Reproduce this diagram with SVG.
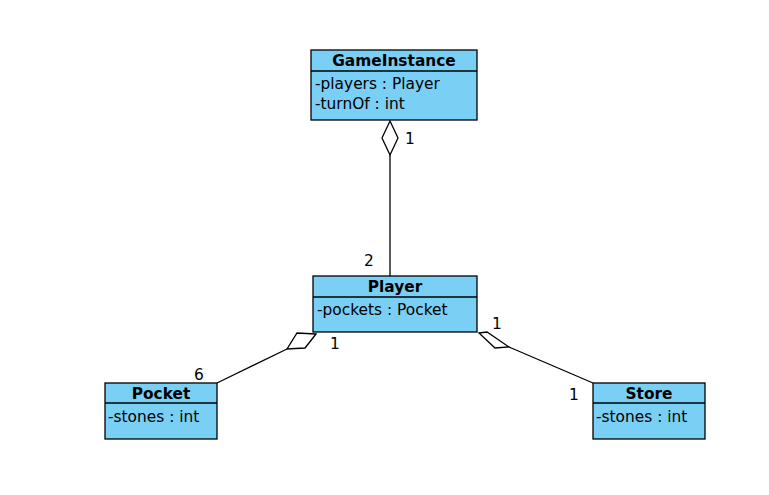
<svg xmlns="http://www.w3.org/2000/svg" width="769" height="495" viewBox="0 0 769 495">
<style>
.box{fill:#7acff5;stroke:#000;stroke-width:1.3}
.sep{stroke:#000;stroke-width:1.3}
.t{font-family:"DejaVu Sans",sans-serif;font-size:15.4px;fill:#000}
.b{font-weight:bold;text-anchor:middle}
.edge{stroke:#000;stroke-width:1.3;fill:none}
.dia{stroke:#000;stroke-width:1.3;fill:#fff}
</style>
<rect width="769" height="495" fill="#fff"/>
<g id="connectors">
<line class="edge" x1="390" y1="155" x2="390" y2="276"/>
<polygon class="dia" points="390,121 398,138 390,155 382,138"/>
<text class="t" x="405" y="144">1</text>
<text class="t" x="364" y="266">2</text>
<line class="edge" x1="287" y1="349" x2="217" y2="383"/>
<polygon class="dia" points="316,334 297,333 287,349 305,348"/>
<text class="t" x="330" y="349">1</text>
<text class="t" x="194" y="380">6</text>
<line class="edge" x1="509" y1="347" x2="593" y2="383"/>
<polygon class="dia" points="479,333 487,332 509,347 495,348"/>
<text class="t" x="492" y="329">1</text>
<text class="t" x="569" y="400">1</text>
</g>
<g id="GameInstance">
<rect class="box" x="311" y="50" width="166" height="70"/>
<line class="sep" x1="311" y1="71" x2="477" y2="71"/>
<text class="t b" x="394" y="66">GameInstance</text>
<text class="t" x="315" y="89">-players : Player</text>
<text class="t" x="315" y="109">-turnOf : int</text>
</g>
<g id="Player">
<rect class="box" x="313" y="276" width="164" height="56"/>
<line class="sep" x1="313" y1="297" x2="477" y2="297"/>
<text class="t b" x="395" y="292">Player</text>
<text class="t" x="317" y="315">-pockets : Pocket</text>
</g>
<g id="Pocket">
<rect class="box" x="105" y="383" width="112" height="56"/>
<line class="sep" x1="105" y1="403" x2="217" y2="403"/>
<text class="t b" x="161" y="399">Pocket</text>
<text class="t" x="108" y="422">-stones : int</text>
</g>
<g id="Store">
<rect class="box" x="593" y="383" width="112" height="56"/>
<line class="sep" x1="593" y1="403" x2="705" y2="403"/>
<text class="t b" x="649" y="399">Store</text>
<text class="t" x="596" y="422">-stones : int</text>
</g>
</svg>
